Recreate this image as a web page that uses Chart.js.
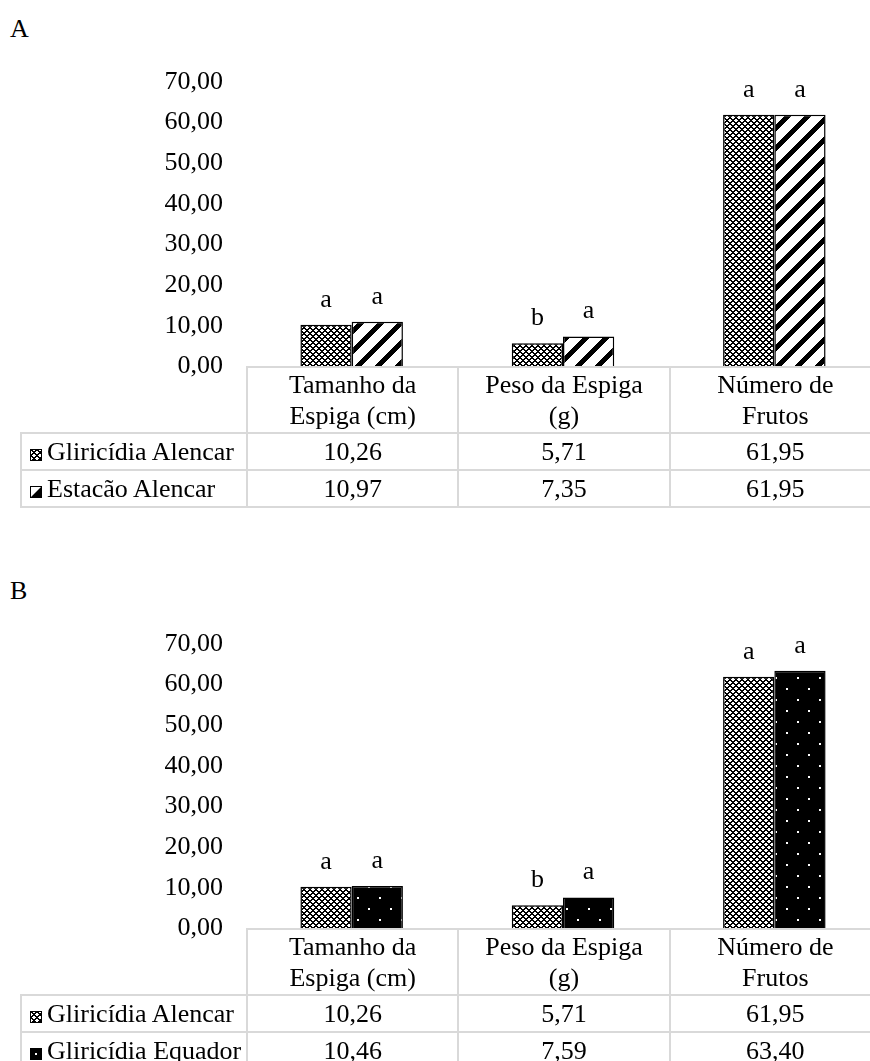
<!DOCTYPE html>
<html>
<head>
<meta charset="utf-8">
<script src="https://cdn.jsdelivr.net/npm/chart.js@4.4.1/dist/chart.umd.min.js"></script>
<style>
  body { margin: 0; overflow: hidden; background: #fff; font-family: "Liberation Serif", "Times New Roman", serif; color: #000; }
  .panel { position: absolute; left: 0; width: 880px; height: 560px; }
  .tag { position: absolute; left: 10px; top: 14px; font-size: 26px; }
  .panel canvas.chart { position: absolute; left: 0; top: 0; }
  table { position: absolute; left: 20px; border-collapse: collapse; table-layout: fixed; font-size: 26px; line-height: 31px; }
  td { border: 2px solid #d9d9d9; text-align: center; padding: 0; white-space: nowrap; }
  tr.head td { height: 64px; }
  tr.row td { height: 35px; }
  td.blank { border-top: none; border-left: none; }
  td.name { text-align: left; padding-left: 8px; }
  td.name canvas { vertical-align: -1px; margin-right: 5px; }
</style>
</head>
<body>

<div class="panel" id="panelA" style="top:0">
  <div class="tag">A</div>
  <canvas class="chart" id="chartA" width="880" height="405"></canvas>
</div>
<div class="panel" id="panelB" style="top:562px">
  <div class="tag">B</div>
  <canvas class="chart" id="chartB" width="880" height="405"></canvas>
</div>

<script>
// data
const categories = [["Tamanho da", "Espiga (cm)"], ["Peso da Espiga", "(g)"], ["Número de", "Frutos"]];
const yTicks = [0, 10, 20, 30, 40, 50, 60, 70];

const alencarA = [10.26, 5.71, 61.95];
const estacaoA = [10.97, 7.35, 61.95];
const lettersAlencarA = ["a", "b", "a"];
const lettersEstacaoA = ["a", "a", "a"];

const alencarB = [10.26, 5.71, 61.95];
const equadorB = [10.46, 7.59, 63.40];
const lettersAlencarB = ["a", "b", "a"];
const lettersEquadorB = ["a", "a", "a"];

const FONT = '"Liberation Serif", "Times New Roman", serif';

// fill patterns
function makeTile(size, paint) {
  const c = document.createElement("canvas");
  c.width = size; c.height = size;
  const g = c.getContext("2d");
  g.fillStyle = "#fff";
  g.fillRect(0, 0, size, size);
  g.fillStyle = "#000";
  paint(g, size);
  return c;
}

// small white diamonds in a black lattice
const diamondTile = makeTile(6, (g, s) => {
  for (let x = 0; x < s; x++) {
    for (let y = 0; y < s; y++) {
      const a = (x + y) % 6, b = (x - y + 6) % 6;
      if (a < 2 || b < 2) g.fillRect(x, y, 1, 1);
    }
  }
});

const stripeTile = makeTile(20, (g, s) => {
  for (let x = 0; x < s; x++) {
    for (let y = 0; y < s; y++) {
      if ((x + y) % 20 < 7) g.fillRect(x, y, 1, 1);
    }
  }
});

const dotTile = makeTile(22, (g, s) => {
  g.fillRect(0, 0, s, s);
  g.fillStyle = "#fff";
  g.fillRect(5, 5, 2, 2);
  g.fillRect(16, 16, 2, 2);
});

const tmp = document.createElement("canvas").getContext("2d");
const diamondFill = tmp.createPattern(diamondTile, "repeat");
const stripeFill = tmp.createPattern(stripeTile, "repeat");
const dotFill = tmp.createPattern(dotTile, "repeat");

function fmt(v) {
  return v.toFixed(2).replace(".", ",");
}

// legend keys in the data table
function keyDiamond(g) {
  g.fillStyle = g.createPattern(diamondTile, "repeat");
  g.fillRect(0, 0, 12, 12);
}
function keyStripe(g) {
  g.fillStyle = "#fff";
  g.fillRect(0, 0, 12, 12);
  g.fillStyle = "#000";
  g.beginPath();
  g.moveTo(12, 0); g.lineTo(12, 12); g.lineTo(0, 12);
  g.closePath();
  g.fill();
}
function keyDot(g) {
  g.fillStyle = "#000";
  g.fillRect(0, 0, 12, 12);
  g.fillStyle = "#fff";
  g.fillRect(5, 5, 2, 2);
}

const lettersPlugin = {
  id: "letters",
  afterDatasetsDraw(chart) {
    const ctx = chart.ctx;
    ctx.save();
    ctx.font = "26px " + FONT;
    ctx.fillStyle = "#000";
    ctx.textAlign = "center";
    ctx.textBaseline = "middle";
    chart.data.datasets.forEach((ds, i) => {
      chart.getDatasetMeta(i).data.forEach((bar, j) => {
        ctx.fillText(ds.letters[j], bar.x, bar.y - 25);
      });
    });
    ctx.restore();
  }
};

function buildPanel(canvasId, panelId, series) {
  const chart = new Chart(document.getElementById(canvasId), {
    type: "bar",
    data: {
      labels: categories.map(c => c.join(" ")),
      datasets: series.map(s => ({
        label: s.name,
        data: s.values,
        letters: s.letters,
        backgroundColor: s.fill,
        borderColor: "#000",
        borderWidth: 1.5,
        categoryPercentage: 0.485,
        barPercentage: 1
      }))
    },
    options: {
      responsive: false,
      animation: false,
      devicePixelRatio: 1,
      layout: { padding: { top: 82, bottom: 34, left: 0, right: 0 } },
      plugins: { legend: { display: false }, tooltip: { enabled: false } },
      scales: {
        x: { display: false },
        y: {
          min: 0,
          max: 70,
          afterBuildTicks: (axis) => { axis.ticks = yTicks.map(v => ({ value: v })); },
          afterFit: (axis) => { axis.width = 246; },
          border: { display: false },
          grid: { display: false, drawTicks: false },
          ticks: {
            padding: 23,
            color: "#000",
            font: { family: FONT, size: 26 },
            callback: (v) => fmt(v)
          }
        }
      }
    },
    plugins: [lettersPlugin]
  });

  // data table under the plot, aligned with the category columns
  const area = chart.chartArea;
  const colW = (area.right - area.left) / categories.length;
  const table = document.createElement("table");
  table.style.top = (area.bottom) + "px";
  table.style.width = (area.right - 20) + "px";

  const cg = document.createElement("colgroup");
  const c0 = document.createElement("col");
  c0.style.width = (area.left - 20) + "px";
  cg.appendChild(c0);
  categories.forEach(() => {
    const c = document.createElement("col");
    c.style.width = colW + "px";
    cg.appendChild(c);
  });
  table.appendChild(cg);

  const head = document.createElement("tr");
  head.className = "head";
  const blank = document.createElement("td");
  blank.className = "blank";
  head.appendChild(blank);
  categories.forEach(c => {
    const td = document.createElement("td");
    td.innerHTML = c.join("<br>");
    head.appendChild(td);
  });
  table.appendChild(head);

  series.forEach(s => {
    const tr = document.createElement("tr");
    tr.className = "row";
    const name = document.createElement("td");
    name.className = "name";
    const key = document.createElement("canvas");
    key.width = 12; key.height = 12;
    const kg = key.getContext("2d");
    s.key(kg);
    kg.strokeStyle = "#000";
    kg.lineWidth = 1;
    kg.strokeRect(0.5, 0.5, 11, 11);
    name.appendChild(key);
    name.appendChild(document.createTextNode(s.name));
    tr.appendChild(name);
    s.values.forEach(v => {
      const td = document.createElement("td");
      td.textContent = fmt(v);
      tr.appendChild(td);
    });
    table.appendChild(tr);
  });

  document.getElementById(panelId).appendChild(table);
}

buildPanel("chartA", "panelA", [
  { name: "Gliricídia Alencar", values: alencarA, letters: lettersAlencarA, fill: diamondFill, key: keyDiamond },
  { name: "Estacão Alencar", values: estacaoA, letters: lettersEstacaoA, fill: stripeFill, key: keyStripe }
]);

buildPanel("chartB", "panelB", [
  { name: "Gliricídia Alencar", values: alencarB, letters: lettersAlencarB, fill: diamondFill, key: keyDiamond },
  { name: "Gliricídia Equador", values: equadorB, letters: lettersEquadorB, fill: dotFill, key: keyDot }
]);
</script>
</body>
</html>
